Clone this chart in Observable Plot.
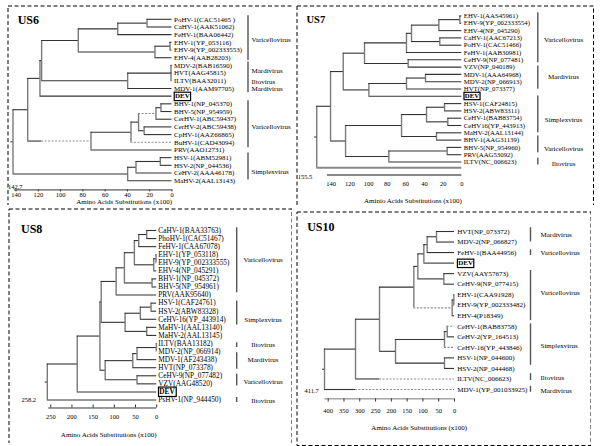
<!DOCTYPE html>
<html><head><meta charset="utf-8">
<script src="https://cdn.jsdelivr.net/npm/d3@7"></script>
<script src="https://cdn.jsdelivr.net/npm/@observablehq/plot@0.6"></script>
<style>
html,body{margin:0;padding:0;background:#fff;}
#root{position:relative;width:600px;height:446px;overflow:hidden;}
.panel{position:absolute;}
.panel svg{display:block;}
</style></head><body><div id="root"></div>
<script>
// ---------- DATA ----------
// Node lists: [id, height (amino-acid substitutions x100), children...]; numbers = leaf indices
const us6Leaves = ["PoHV-1(CAC51465 )","CaHV-1(AAK51062)","FeHV-1(BAA06442)","EHV-1(YP_053116)","EHV-9(YP_002333553)","EHV-4(AAB28203)","MDV-2(BAB16590)","HVT(AAG45815)","ILTV(BAA32011)","MDV-1(AAM97705)","DEV","BHV-1(NP_045370)","BHV-5(NP_954959)","CerHV-1(ABC59437)","CerHV-2(ABC59438)","CpHV-1(AAZ66865)","BuHV-1(CAD43094)","PRV(AAO12731)","HSV-1(ABM52981)","HSV-2(NP_044536)","CeHV-2(AAA46178)","MaHV-2(AAL13143)"];
const us6Nodes = [["a",22.4,0,1],["b",48.7,"a",2],["c",1.8,3,4],["d",15.3,"c",5],["e",84.1,"b","d"],["f",0.9,6,7,8],["g",39.8,"f",9],["h",117,"e","g"],["i",118.5,"h",10],["j",9.9,11,12],["k",14.4,"j",13],["l",25,14,15],["m",30,"k","l"],["n",36.8,"m",16],["o",72.7,"n",17],["p",129.5,"i","o"],["q",10.5,18,19],["r",32.3,"q",20],["s",39.8,"r",21],["root",142.7,"p","s"]];
const us6Dashed = [["o",117],["k"],[16]];
const us6Bars = [[-0.45,5.35],[5.55,9.55],[10.6,16.7],[17.4,20.9]];
const us6Clades = [["Varicellovirus",2.65],["Mardivirus",6.72],["Iltovirus",8.1],["Mardivirus",9.1],["Varicellovirus",14.0],["Simplexvirus",19.9]];
const us6Ticks = [140,120,100,80,60,40,20,0];

const us7Leaves = ["EHV-1(AAS45961)","EHV-9(YP_002333554)","EHV-4(NP_045290)","CaHV-1(AAC67213)","PoHV-1(CAC51466)","FeHV-1(AAB30981)","CeHV-9(NP_077481)","VZV(NP_040189)","MDV-1(AAA64968)","MDV-2(NP_066913)","HVT(NP_073377)","DEV","HSV-1(CAF24815)","HSV-2(ABW83311)","CeHV-1(BAB83754)","CeHV16(YP_443913)","MaHV-2(AAL13144)","BHV-1(AAG31139)","BHV-5(NP_954960)","PRV(AAG53092)","ILTV(NC_006623)",""];
const us7LeafRows = {21: 20.78};
const us7Nodes = [["a",2.1,0,1],["b",24.6,"a",2],["c",23.6,3,4],["d",53.9,"b","c"],["e",59.3,"d",5],["f",57.5,6,7],["g",104.3,"e","f"],["h",38.9,8,9],["i",59.3,"h",10],["j",99.6,"i",11],["k",127.1,"g","j"],["l",18.5,12,13],["m",15,14,15],["n",37.8,"l","m"],["o",27.1,16,17],["p",64.6,"n","o"],["q",15.7,18,19],["r",78.2,"q",20],["s",124.6,"p","r"],["t",140.7,"k","s"],["root",155.5,"t",21]];
const us7Dashed = [];
const us7Bars = [[-0.45,6.4],[6.85,10.04],[10.96,15.99],[16.44,18.73],[19.49,20.41]];
const us7Clades = [["Varicellovirus",3.19],["Mardivirus",8.32],["Simplexvirus",14.15],["Varicellovirus",18.18],["Iltovirus",20.18]];
const us7Ticks = [140,120,100,80,60,40,20,0];

const us8Leaves = ["CaHV-1(BAA33763)","PhoHV-1(CAC51467)","FeHV-1(CAA67078)","EHV-1(YP_053118)","EHV-9(YP_002333555)","EHV-4(NP_045291)","BHV-1(NP_045372)","BHV-5(NP_954961)","PRV(AAK95640)","HSV-1(CAF24761)","HSV-2(ABW83328)","CeHV-16(YP_443914)","MaHV-1(AAL13140)","MaHV-2(AAL13145)","ILTV(BAA13182)","MDV-2(NP_066914)","MDV-1(AF243438)","HVT(NP_073378)","CeHV-9(NP_077482)","VZV(AAG48520)","DEV","PsHV-1(NP_944450)"];
const us8Nodes = [["a",23.5,0,1],["b",42.4,"a",2],["c",1.6,3,4],["d",7,"c",5],["e",52.7,"b","d"],["f",11,6,7],["g",76.2,"e","f"],["h",95.8,"g",8],["i",13.4,9,10],["j",38.6,"i",11],["k",23.5,12,13],["l",74.6,"j","k"],["m",131,"h","l"],["n",0.8,14,15],["o",46.4,"n",16],["p",56.5,"o",17],["q",46.4,18,19],["r",121.6,"p","q"],["s",134,"m","r"],["t",187.5,"s",20],["root",258.2,"t",21]];
const us8Dashed = [];
const us8Bars = [[-0.35,7.7],[8.74,11.7],[13.9,14.5],[15.14,17.2],[17.8,19.27],[20.7,21.3]];
const us8Clades = [["Varicellovirus",3.57],["Simplexvirus",11.1],["Iltovirus",14.19],["Mardivirus",16.05],["Varicellovirus",18.74],["Iltovirus",21.1]];
const us8Ticks = [250,200,150,100,50,0];

const us10Leaves = ["HVT(NP_073372)","MDV-2(NP_066827)","FeHV-1(BAA44956)","DEV","VZV(AAY57673)","CeHV-9(NP_077415)","EHV-1(CAA91928)","EHV-9(YP_002333482)","EHV-4(P18349)","CeHV-1(BAB83758)","CeHV-2(YP_164513)","CeHV-16(YP_443846)","HSV-1(NP_044600)","HSV-2(NP_044468)","ILTV(NC_006623)","MDV-1(YP_001033925)"];
const us10Nodes = [["a",57,0,1],["b",86.5,"a",2],["c",97.1,"b",3],["d",33.8,4,5],["e",116.1,"c","d"],["f",2.1,6,7],["g",7.4,"f",8],["h",128.8,"e","g"],["i",23.2,9,10],["j",31.7,"i",11],["k",31.7,12,13],["l",186.8,"j","k"],["m",237.5,"h","l"],["n",313.5,"m",14],["root",411.7,"n",15]];
const us10Dashed = [["g"],[9],[11],[14,237.5],[15,313.5]];
const us10Bars = [[-0.35,1.0],[1.74,2.28],[3.7,8.45],[8.77,12.7],[13.5,14.15],[14.7,15.26]];
const us10Clades = [["Mardivirus",0.28],["Varicellovirus",2.02],["Varicellovirus",5.86],["Simplexvirus",10.83],["Iltovirus",13.84],["Mardivirus",15.1]];
const us10Ticks = [400,350,300,250,200,150,100,50,0];

const panelTitles = ["US6","US7","US8","US10"];
const rootTexts = ["142.7","155.5","258.2","411.7"];
const axisTitles = ["Amino Acids Substitutions (x100)","Aminio Acids Substitutions (x100)","Amino Acids Substitutions (x100)","Amino Acids Substitutions (x100)"];

// ---------- LAYOUT (page pixels / row units) ----------
const layouts = [
  {box:[6.5,4.5,285.5,200.5], xMap:[[140,15],[0,171]], yMap:[18.3,179.7], lastRow:21, tipFont:7, tipDx:2,
   titleSize:12, titlePos:[10.2,14.2], barDx:76, labelDx:79.5, labelAnchor:"start", stub:1.8,
   axis:{row:22.2, from:141.5, to:-0.5, tick:0.26, labelRow:22.9, titleRow:23.75, titleDx:0, width:1, color:"#333"},
   rootLabel:{row:21.75, dx:-5, anchor:"start"}},
  {box:[296,4.5,297.5,200.5], xMap:[[140,330.7],[0,461.3]], yMap:[15,161], lastRow:20, tipFont:6.8, tipDx:2,
   titleSize:10.5, titlePos:[10,13.8], barDx:76, labelDx:101.7, labelAnchor:"middle", stub:2.2,
   axis:{row:21.78, from:144, to:0, tick:0, labelRow:23.05, titleRow:25.34, titleDx:0, width:2, color:"#888"},
   rootLabel:{row:22.0, dx:-4.4, anchor:"end"}},
  {box:[7.5,207.5,284,235.5], xMap:[[258.2,46.3],[0,155.7]], yMap:[229.5,399], lastRow:21, tipFont:7.3, tipDx:1.6,
   titleSize:12, titlePos:[12.5,20.5], barDx:80, labelDx:106.3, labelAnchor:"middle", stub:4.7,
   axis:{row:21.99, from:255, to:0, tick:-0.37, labelRow:23.05, titleRow:25.25, titleDx:0, width:1, color:"#333"},
   rootLabel:{row:21.04, dx:-11.3, anchor:"end"}},
  {box:[296,211,295,234.5], xMap:[[411.7,324],[0,454]], yMap:[231,389], lastRow:15, tipFont:7, tipDx:2.7,
   titleSize:12, titlePos:[10.7,15.7], barDx:76, labelDx:86, labelAnchor:"start", stub:6.3,
   axis:{row:15.89, from:410, to:0, tick:0.3, labelRow:17.0, titleRow:18.65, titleDx:12.7, width:0.8, color:"#555"},
   rootLabel:{row:15.1, dx:-5.7, anchor:"end"}}
];

const specs = [
  {leaves:us6Leaves, nodes:us6Nodes, dashed:us6Dashed, bars:us6Bars, clades:us6Clades, ticks:us6Ticks, leafRows:{}},
  {leaves:us7Leaves, nodes:us7Nodes, dashed:us7Dashed, bars:us7Bars, clades:us7Clades, ticks:us7Ticks, leafRows:us7LeafRows},
  {leaves:us8Leaves, nodes:us8Nodes, dashed:us8Dashed, bars:us8Bars, clades:us8Clades, ticks:us8Ticks, leafRows:{}},
  {leaves:us10Leaves, nodes:us10Nodes, dashed:us10Dashed, bars:us10Bars, clades:us10Clades, ticks:us10Ticks, leafRows:{}}
];

// ---------- TREE LAYOUT ----------
function layoutTree(leaves, nodes, dashedList, leafRows) {
  const byId = new Map(nodes.map(n => [n[0], n]));
  const key = c => typeof c === "number" ? "L" + c : c;
  const pos = new Map();
  function place(c) {
    if (typeof c === "number") return {h: 0, y: leafRows[c] != null ? leafRows[c] : c};
    if (pos.has(c)) return pos.get(c);
    const n = byId.get(c);
    const ks = n.slice(2).map(place);
    const p = {h: n[1], y: (ks[0].y + ks[ks.length - 1].y) / 2};
    pos.set(c, p);
    return p;
  }
  const rootId = nodes[nodes.length - 1][0];
  const root = place(rootId);
  const dash = new Map(dashedList.map(d => [key(d[0]), d.length > 1 ? d[1] : null]));
  const H = [], V = [];
  for (const n of nodes) {
    const p = place(n[0]);
    const kids = n.slice(2);
    const ks = kids.map(place);
    V.push({x: p.h, y1: ks[0].y, y2: ks[ks.length - 1].y});
    kids.forEach((c, i) => {
      const k = ks[i];
      const thick = typeof c === "number" && !leaves[c];
      if (!dash.has(key(c))) {
        H.push({x1: p.h, x2: k.h, y: k.y, dashed: false, thick});
      } else {
        const from = dash.get(key(c)) == null ? p.h : dash.get(key(c));
        if (from < p.h) H.push({x1: p.h, x2: from, y: k.y, dashed: false, thick});
        H.push({x1: from, x2: k.h, y: k.y, dashed: true, thick});
      }
    });
  }
  return {H, V, root};
}

const FONT = "Liberation Serif";
const rootDiv = document.getElementById("root");

specs.forEach((spec, pi) => {
  const L = layouts[pi];
  const t = layoutTree(spec.leaves, spec.nodes, spec.dashed, spec.leafRows);
  const [left, top, w, h] = L.box;
  const H = t.H.slice();
  H.push({x1: t.root.h, x2: t.root.h + L.stub, y: t.root.y, dashed: false, thick: false});
  const tips = spec.leaves.map((name, i) => ({name, row: spec.leafRows[i] != null ? spec.leafRows[i] : i})).filter(d => d.name);
  const ax = L.axis;
  const marks = [
    Plot.frame({stroke: "#000", strokeWidth: 1, strokeDasharray: "4,2.5", inset: 0.5}),
    Plot.ruleX(t.V, {x: "x", y1: "y1", y2: "y2", stroke: "#7a7a7a", strokeWidth: 1.4}),
    Plot.ruleY(H.filter(d => !d.dashed && !d.thick), {y: "y", x1: "x1", x2: "x2", stroke: "#333", strokeWidth: 1.1}),
    Plot.ruleY(H.filter(d => d.thick), {y: "y", x1: "x1", x2: "x2", stroke: "#888", strokeWidth: 2}),
    Plot.ruleY(H.filter(d => d.dashed), {y: "y", x1: "x1", x2: "x2", stroke: "#8a8a8a", strokeWidth: 1.1, strokeDasharray: "2,1.5"}),
    Plot.text(tips.filter(d => d.name !== "DEV"), {x: () => 0, y: "row", text: "name", textAnchor: "start", dx: L.tipDx, fontSize: L.tipFont, fontFamily: FONT, fill: "#000"}),
    Plot.text(tips.filter(d => d.name === "DEV"), {x: () => 0, y: "row", text: "name", textAnchor: "start", dx: L.tipDx + 1, fontSize: L.tipFont, fontWeight: "bold", fontFamily: FONT, fill: "#000"}),
    Plot.ruleX(spec.bars, {x: () => 0, dx: L.barDx, y1: d => d[0], y2: d => d[1], stroke: "#555", strokeWidth: 1.4}),
    Plot.text(spec.clades, {x: () => 0, y: d => d[1], text: d => d[0], dx: L.labelDx, textAnchor: L.labelAnchor, fontSize: 7, fontFamily: FONT, fill: "#000"}),
    Plot.ruleY([ax], {y: d => d.row, x1: d => d.from, x2: d => d.to, stroke: ax.color, strokeWidth: ax.width}),
    ax.tick ? Plot.ruleX(spec.ticks, {x: d => d, y1: () => ax.row, y2: () => ax.row + ax.tick, stroke: "#333", strokeWidth: 1}) : null,
    Plot.text(spec.ticks, {x: d => d, y: () => ax.labelRow, text: d => String(d), fontSize: 6.5, fontFamily: FONT, fill: "#000"}),
    Plot.text([axisTitles[pi]], {x: () => 0, y: () => ax.titleRow, text: d => d, textAnchor: "end", dx: ax.titleDx, fontSize: 7, fontFamily: FONT, fill: "#000"}),
    Plot.text([rootTexts[pi]], {x: () => t.root.h, y: () => L.rootLabel.row, text: d => d, dx: L.rootLabel.dx, textAnchor: L.rootLabel.anchor, fontSize: 6.5, fontFamily: FONT, fill: "#000"}),
    Plot.text([panelTitles[pi]], {frameAnchor: "top-left", dx: L.titlePos[0], dy: L.titlePos[1], text: d => d, textAnchor: "start", lineAnchor: "middle", fontSize: L.titleSize, fontWeight: "bold", fontFamily: FONT, fill: "#000"})
  ].filter(Boolean);

  const svg = Plot.plot({
    width: w, height: h, margin: 0,
    x: {domain: [L.xMap[0][0], L.xMap[1][0]], range: [L.xMap[0][1] - left, L.xMap[1][1] - left], axis: null},
    y: {domain: [0, L.lastRow], range: [L.yMap[0] - top, L.yMap[1] - top], axis: null},
    style: {background: "transparent", fontFamily: FONT, overflow: "hidden"},
    marks
  });
  const div = document.createElement("div");
  div.className = "panel";
  div.style.left = left + "px";
  div.style.top = top + "px";
  div.style.width = w + "px";
  div.style.height = h + "px";
  div.appendChild(svg);
  rootDiv.appendChild(div);

  // box around the DEV label
  svg.querySelectorAll("text").forEach(el => {
    if (el.textContent === "DEV") {
      const b = el.getBBox();
      const r = document.createElementNS("http://www.w3.org/2000/svg", "rect");
      r.setAttribute("x", b.x - 0.8);
      r.setAttribute("y", b.y - 0.2);
      r.setAttribute("width", b.width + 1.6);
      r.setAttribute("height", b.height + 0.4);
      const tr = el.getAttribute("transform");
      if (tr) r.setAttribute("transform", tr);
      r.setAttribute("fill", "none");
      r.setAttribute("stroke", "#000");
      r.setAttribute("stroke-width", 1.2);
      el.parentNode.insertBefore(r, el);
    }
  });
});
</script></body></html>
